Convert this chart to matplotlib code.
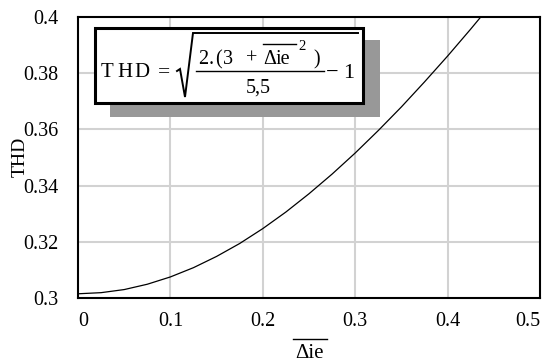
import matplotlib
matplotlib.use("Agg")
import matplotlib.pyplot as plt
from matplotlib.transforms import Affine2D, ScaledTranslation
from matplotlib.patches import Rectangle
from matplotlib.lines import Line2D

# Ripple amplitude (normalised) and the resulting THD
delta_ie = [0.0, 0.025, 0.05, 0.075, 0.1, 0.125, 0.15, 0.175, 0.2, 0.225,
            0.25, 0.275, 0.3, 0.325, 0.35, 0.375, 0.4, 0.425, 0.45]
thd = [0.3015, 0.3019, 0.3030, 0.3049, 0.3075, 0.3108, 0.3148, 0.3194,
       0.3247, 0.3306, 0.3371, 0.3441, 0.3516, 0.3596, 0.3680, 0.3769,
       0.3861, 0.3957, 0.4056]

x_ticks = [0, 0.1, 0.2, 0.3, 0.4, 0.5]
x_tick_labels = ["0", "0.1", "0.2", "0.3", "0.4", "0.5"]
y_ticks = [0.3, 0.32, 0.34, 0.36, 0.38, 0.4]
y_tick_labels = ["0.3", "0.32", "0.34", "0.36", "0.38", "0.4"]

SERIF = "Liberation Serif"
W, H = 548, 363

fig = plt.figure(figsize=(W / 100, H / 100), dpi=100)
fig.patch.set_facecolor("white")
# pixel coordinates with origin at top-left
px = Affine2D().scale(1 / W, -1 / H).translate(0, 1) + fig.transFigure

x0, x1, y0, y1 = 78, 540, 17, 298
ax = fig.add_axes([x0 / W, (H - y1) / H, (x1 - x0) / W, (y1 - y0) / H])
ax.set_xlim(0, 0.5)
ax.set_ylim(0.3, 0.4)

for v in x_ticks[1:-1]:
    ax.axvline(v, color="#d2d2d2", lw=1.5, zorder=1)
for v in y_ticks[1:-1]:
    ax.axhline(v, color="#d2d2d2", lw=1.5, zorder=1)

ax.plot(delta_ie, thd, color="black", lw=0.9, zorder=3)

ax.set_xticks(x_ticks)
ax.set_xticklabels(x_tick_labels, fontfamily=SERIF, fontsize=14.5)
ax.set_yticks(y_ticks)
ax.set_yticklabels(y_tick_labels, fontfamily=SERIF, fontsize=14.5)
ax.tick_params(length=0, pad=10)
ax.tick_params(axis="y", pad=14)
for s in ax.spines.values():
    s.set_linewidth(1.5)
    s.set_color("black")

xl = ax.get_xticklabels()
xl[0].set_transform(xl[0].get_transform() + ScaledTranslation(0.05, 0, fig.dpi_scale_trans))
xl[-1].set_horizontalalignment("right")

# axis titles
fig.text(20, 157, "THD", transform=px, rotation=90, ha="center", va="center",
         fontfamily=SERIF, fontsize=14)
fig.text(310, 358, "Δie", transform=px, ha="center", va="baseline",
         fontfamily=SERIF, fontsize=15)
fig.add_artist(Line2D([293, 327], [339, 339], transform=px, color="black", lw=1.0))

# formula box with drop shadow
fig.add_artist(Rectangle((110, 40), 270, 77, transform=px, facecolor="#989898",
                         edgecolor="none", zorder=5))
fig.add_artist(Rectangle((95, 28), 268, 75, transform=px, facecolor="white",
                         edgecolor="black", lw=2.2, zorder=6))

tkw = dict(transform=px, fontfamily=SERIF, va="baseline", color="black", zorder=7)
for ch, xp in zip("THD", [101, 117, 134]):
    fig.text(xp, 77, ch, fontsize=15, ha="left", **tkw)
fig.text(164, 77, "=", fontsize=15.5, ha="center", **tkw)

# radical sign with its bar
fig.add_artist(Line2D([177, 180, 185, 193, 358], [71, 69, 97, 33, 33], transform=px,
                      color="black", lw=1.4, zorder=7, solid_joinstyle="miter"))

fs = 14.5
fig.text(198, 64, "2", fontsize=fs, ha="left", **tkw)
fig.text(209, 64, ".", fontsize=fs, ha="left", **tkw)
fig.text(215, 64, "(", fontsize=fs, ha="left", **tkw)
fig.text(223, 64, "3", fontsize=fs, ha="left", **tkw)
fig.text(252, 64, "+", fontsize=fs, ha="center", **tkw)
fig.text(263, 64, "Δ", fontsize=fs, ha="left", **tkw)
fig.text(276, 64, "ie", fontsize=fs, ha="left", **tkw)
fig.add_artist(Line2D([263, 296], [44, 44], transform=px, color="black", lw=1.0, zorder=7))
fig.text(298, 50, "2", fontsize=10.5, ha="left", **tkw)
fig.text(313, 64, ")", fontsize=fs, ha="left", **tkw)

fig.add_artist(Line2D([196, 324], [71, 71], transform=px, color="black", lw=1.0, zorder=7))
fig.text(258, 93, "5,5", fontsize=fs, ha="center", **tkw)
fig.text(332, 78, "−", fontsize=16, ha="center", **tkw)
fig.text(343, 78, "1", fontsize=16, ha="left", **tkw)

fig.savefig("out.png", dpi=100, facecolor="white")
